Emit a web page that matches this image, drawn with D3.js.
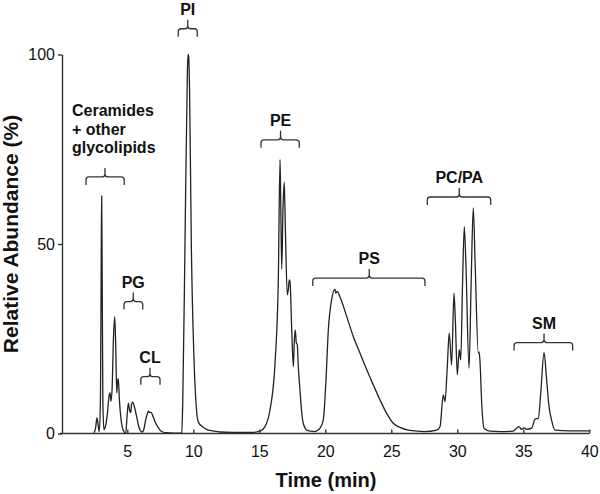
<!DOCTYPE html>
<html>
<head>
<meta charset="utf-8">
<script src="https://cdn.jsdelivr.net/npm/d3@7"></script>
<style>
body { margin:0; background:#fff }
text { font-family: Arial, "Liberation Sans", sans-serif; fill:#111 }
</style>
</head>
<body>
<div id="graph"></div>
<script>
// chromatogram trace, time (min) and relative abundance (%)
var traceTime = [2.48,2.6,2.7,2.8,2.88,2.97,3.03,3.06,3.1,3.15,3.23,3.35,3.5,3.62,3.69,3.76,3.85,3.95,4.05,4.13,4.2,4.28,4.32,4.4,4.55,4.7,4.88,4.97,5.08,5.18,5.26,5.33,5.41,5.5,5.71,5.9,6.05,6.17,6.28,6.39,6.52,6.6,6.7,6.8,6.95,7.1,7.3,7.48,7.7,7.98,8.5,9.0,
	9.12,9.2,9.37,9.55,9.6,9.65,9.72,9.85,10.05,10.25,10.38,10.7,11,11.5,12,13,14.5,
	15.05,15.43,15.81,16.19,16.44,16.57,16.62,16.7,16.8,16.89,16.97,17.12,17.2,17.27,17.33,17.45,17.58,17.66,17.73,17.8,17.88,17.95,18.08,18.2,18.33,18.59,18.9,19.22,
	19.45,19.6,19.85,20.05,20.23,20.48,20.73,20.8,20.91,21.11,21.62,22.12,22.63,23.14,23.64,24.14,24.65,25.15,25.66,26.41,27.5,
	28.44,28.69,28.94,29.07,29.24,29.39,29.57,29.75,29.85,30.0,30.15,30.26,30.4,30.53,30.65,30.89,31.05,31.21,31.35,31.59,31.65,31.72,31.85,32.02,32.5,33.24,
	34.2,34.5,34.67,34.88,35.05,35.26,35.64,35.89,36.14,36.32,36.57,36.77,36.95,37.15,37.4,38.5,40]
var traceAbund = [0.2,1.5,4.1,2,0.5,10,50,62.7,40,8,1,2,5.5,10,10.7,8.5,12,25,30.8,22,10.7,14.4,14.4,9,3,0.8,0.1,4,8,6,5.5,7.8,8.3,7.5,4.4,1.5,0.5,0.4,1.5,3.6,5.2,5.9,5.5,5.6,4.5,3.1,1.8,0.9,0.4,0.2,0.1,0.1,
	0.3,8,50,95,100,99.5,90,50,20,6,3,1.8,1.1,0.7,0.4,0.3,0.3,
	0.6,1.8,6.2,18.5,40.5,72.3,62,43.4,60,66.3,55,36.6,38,40.5,40,28,17.6,25,27.3,24,23.4,18,11.5,6,2.7,0.9,0.6,0.5,
	0.9,1.4,3.6,14,27.3,35.3,38.1,37,37.5,36.1,30.9,25.6,21.2,16.8,12.8,8.9,5.3,2.7,1.6,0.8,0.5,
	0.9,1.8,10.2,8.4,17.6,26.5,18.1,37,30,15.5,22.1,19.4,40,54.6,45,17.2,40,59.5,45,21.2,21.5,19,8,1.4,0.6,0.5,
	0.6,1.4,1.8,1.1,1.5,1.1,1.4,3.8,4,10.6,21.3,14.1,7.1,3.4,0.9,0.7,0.7]

var xTicks = [5,10,15,20,25,30,35,40]
var yTicks = [0,50,100]

// lipid class brackets: label lines, start / middle / end time, level (%)
var classLabels = [['Ceramides','+ other','glycolipids'],['PG'],['CL'],['PI'],['PE'],['PS'],['PC/PA'],['SM']]
var classStart = [1.87,4.75,6.02,8.86,15.13,19.05,27.73,34.3]
var classMid = [3.31,5.45,6.72,9.58,16.61,23.33,30.15,36.57]
var classEnd = [4.77,6.17,7.48,10.3,18.03,27.55,32.53,38.74]
var classLevel = [67.7,34.8,15,106.8,77.5,41,62.4,24]

var svg = d3.select('#graph').append('svg')
	.attr('width',600)
	.attr('height',494)

var x = d3.scaleLinear().domain([0,40]).range([61.3,589.3])
var y = d3.scaleLinear().domain([0,100]).range([433.5,54.5])

var points = traceTime.map(function(t,i){ return [t, traceAbund[i]] })

var line = d3.line()
	.x(function(d){ return x(d[0]) })
	.y(function(d){ return y(d[1]) })
	.curve(d3.curveMonotoneX)

svg.append('path')
	.datum(points)
	.attr('d', line)
	.attr('fill','none')
	.attr('stroke','#222')
	.attr('stroke-width',1.3)
	.attr('stroke-linejoin','round')

// axes
var xAxis = svg.append('g')
	.attr('transform','translate(0,433.5)')
	.call(d3.axisBottom(x).tickValues(xTicks).tickSizeInner(-4).tickSizeOuter(0).tickPadding(12))
xAxis.select('.domain').attr('d','M60,0H589.3')

var yAxis = svg.append('g')
	.attr('transform','translate(62,0)')
	.call(d3.axisLeft(y).tickValues(yTicks).tickSize(4).tickSizeOuter(0).tickPadding(3))

svg.selectAll('.domain, .tick line').attr('stroke','#333').attr('stroke-width',1.4)
svg.selectAll('.tick text').attr('font-size',16).attr('fill','#111')
	.style('font-family','Arial, "Liberation Sans", sans-serif')

svg.append('text')
	.attr('x',326).attr('y',487)
	.attr('text-anchor','middle')
	.attr('font-size',20).attr('font-weight','bold')
	.text('Time (min)')

svg.append('text')
	.attr('transform','translate(18,234) rotate(-90)')
	.attr('text-anchor','middle')
	.attr('font-size',21).attr('font-weight','bold')
	.text('Relative Abundance (%)')

// brackets
function bracket(x0, xc, x1, yy){
	var d = 8, h = 9, r = 3
	return 'M'+x0+','+(yy+d)+'L'+x0+','+(yy+r)+'Q'+x0+','+yy+','+(x0+r)+','+yy
		+'L'+(xc-r)+','+yy+'Q'+xc+','+yy+','+xc+','+(yy-r)+'L'+xc+','+(yy-h)
		+'M'+xc+','+(yy-r)+'Q'+xc+','+yy+','+(xc+r)+','+yy
		+'L'+(x1-r)+','+yy+'Q'+x1+','+yy+','+x1+','+(yy+r)+'L'+x1+','+(yy+d)
}

classLabels.forEach(function(lines, i){
	var yy = y(classLevel[i])
	svg.append('path')
		.attr('d', bracket(x(classStart[i]), x(classMid[i]), x(classEnd[i]), yy))
		.attr('fill','none')
		.attr('stroke','#333')
		.attr('stroke-width',1.3)

	var t = svg.append('text')
		.attr('font-size',16).attr('font-weight','bold')
	if(lines.length > 1){
		t.attr('text-anchor','start')
		lines.forEach(function(s, j){
			t.append('tspan')
				.attr('x', x(classStart[i]) - 14)
				.attr('y', yy - 24 - (lines.length-1-j)*18.3)
				.text(s)
		})
	}
	else{
		t.attr('text-anchor','middle')
			.attr('x', x(classMid[i]))
			.attr('y', yy - 14)
			.text(lines[0])
	}
})
</script>
</body>
</html>
